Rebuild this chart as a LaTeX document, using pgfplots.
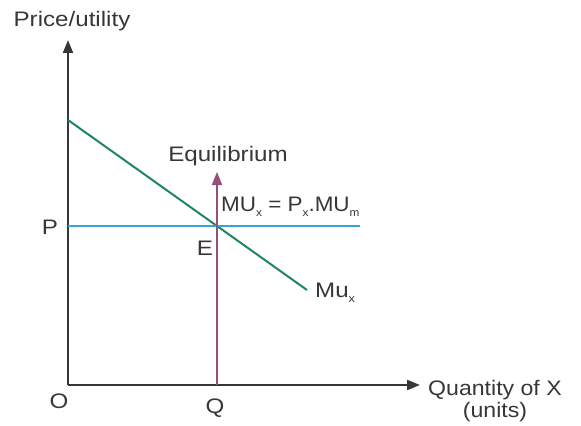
\documentclass[border=0pt]{standalone}
\usepackage{fontspec}
\setmainfont{Liberation Sans}
\usepackage{pgfplots}
\pgfplotsset{compat=1.18}
\usetikzlibrary{arrows.meta}
\definecolor{axisgray}{RGB}{55,55,55}
\definecolor{muGreen}{RGB}{30,135,95}
\definecolor{priceBlue}{RGB}{55,165,215}
\definecolor{eqPurple}{RGB}{150,80,120}
\newcommand{\sub}[1]{\raisebox{-0.5ex}{\fontsize{11}{11}\selectfont #1}}
\newcommand{\lbl}[1]{\scalebox{1.15}[1]{#1}}

\begin{document}
\begin{tikzpicture}
\begin{axis}[
    x=1pt, y=1pt,
    xmin=0, xmax=352,
    ymin=0, ymax=345,
    axis lines=left,
    axis line style={draw=axisgray, line width=2.2pt, -{Triangle[length=13pt,width=10pt]}},
    xtick=\empty, ytick=\empty,
    clip=false,
    font=\fontsize{21}{24}\selectfont
  ]
  % invisible frame so the page matches the reference size
  \addplot[draw=none] coordinates {(-68,-38) (513,385)};
  % marginal utility curve
  \addplot[muGreen, line width=2pt] coordinates {(0,265) (239,95)};
  % price line
  \addplot[priceBlue, line width=2pt] coordinates {(0,159) (292,159)};
  % equilibrium arrow
  \addplot[eqPurple, line width=1.8pt, -{Triangle[length=13pt,width=10pt]}] coordinates {(149,0) (149,213)};

  \node[text=axisgray] at (axis cs:4,364) {\lbl{Price/utility}};
  \node[text=axisgray] at (axis cs:-18,158) {\lbl{P}};
  \node[text=axisgray] at (axis cs:-9,-16) {\lbl{O}};
  \node[text=axisgray] at (axis cs:147,-23) {\lbl{Q}};
  \node[text=axisgray] at (axis cs:137,137) {\lbl{E}};
  \node[text=axisgray] at (axis cs:160,229) {\lbl{Equilibrium}};
  \node[text=axisgray, anchor=west, inner sep=0pt] at (axis cs:153,178) {\scalebox{1.07}[1]{MU\sub{x} = P\sub{x}.MU\sub{m}}};
  \node[text=axisgray, anchor=west, inner sep=0pt] at (axis cs:247,92) {\lbl{Mu\sub{x}}};
  \node[text=axisgray, anchor=west, inner sep=0pt] at (axis cs:360,-5) {\scalebox{1.1}[1]{Quantity of X}};
  \node[text=axisgray] at (axis cs:427,-27) {\scalebox{1.1}[1]{(units)}};
\end{axis}
\end{tikzpicture}
\end{document}
